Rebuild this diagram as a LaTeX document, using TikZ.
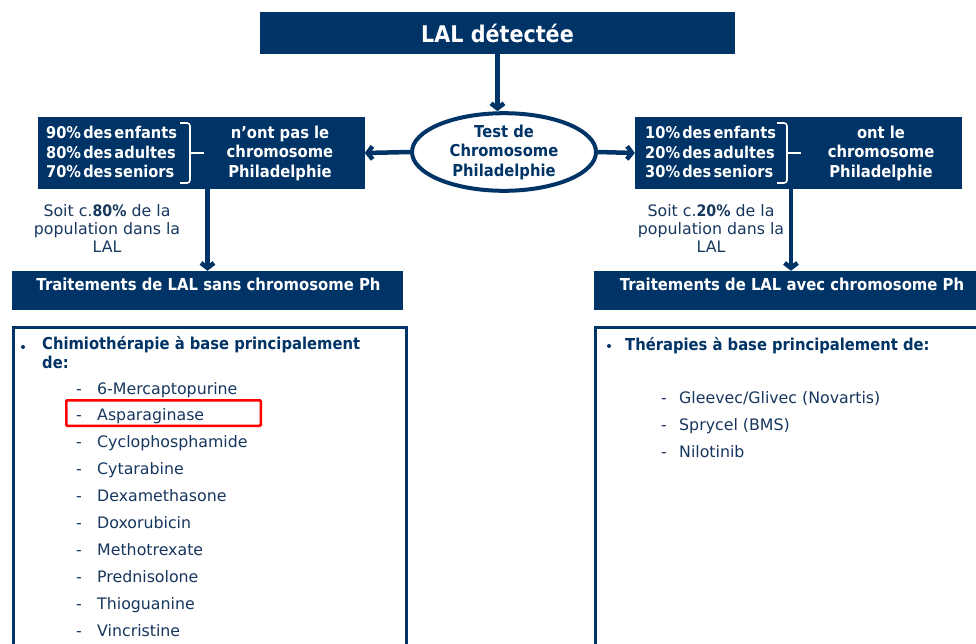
\documentclass[tikz,border=0pt]{standalone}
\usepackage{fontspec}
\setmainfont{DejaVu Sans}[BoldFeatures={FakeStretch=0.9}]
\usetikzlibrary{arrows.meta,shapes.geometric}
\definecolor{navy}{RGB}{0,51,102}
\definecolor{txtblue}{RGB}{23,55,94}
\newcommand{\fs}[1]{\fontsize{#1}{#1}\selectfont}
\newcommand{\tightsp}{\spaceskip=2.2pt\relax}
\begin{document}
\begin{tikzpicture}[x=1pt,y=-1pt,
  navybox/.style={fill=navy, draw=none, inner sep=0pt, text=white},
  wtext/.style={text=white, inner sep=0pt, font=\bfseries\fontsize{16.4}{19.5}\selectfont},
  pct/.style={text=white, inner sep=0pt, anchor=west, align=left, font=\bfseries\fontsize{16.2}{19.5}\selectfont\tightsp},
  arr/.style={draw=navy, line width=4.5pt, -{Straight Barb[length=5pt,width=13pt]}},
  listbox/.style={draw=navy, line width=3pt, fill=white, inner sep=0pt, anchor=north west},
  item/.style={anchor=base west, inner sep=0pt, text=txtblue, font=\fs{15.8}},
  head/.style={anchor=base west, inner sep=0pt, text=navy, align=left, font=\bfseries\fontsize{16.4}{19}\selectfont},
  soit/.style={align=center, inner sep=0pt, text=txtblue, font=\fontsize{15.8}{18}\selectfont},
  bul/.style={circle, fill=navy, inner sep=0pt, minimum size=4pt}]
\useasboundingbox (0,0) rectangle (976,643);
\clip (0,0) rectangle (976,643);

% top box
\node[navybox, minimum width=475pt, minimum height=42pt, font=\bfseries\fs{23}] (top) at (497.5,33) {LAL détectée};

% ellipse
\node[ellipse, draw=navy, line width=4pt, fill=white, minimum width=184pt, minimum height=75pt,
      inner sep=0pt, align=center, text=navy, font=\bfseries\fontsize{16.4}{19.5}\selectfont] (test) at (504,152)
      {Test de\\Chromosome\\Philadelphie};

% left / right result boxes
\node[navybox, minimum width=327pt, minimum height=72pt] (lbox) at (201,153) {};
\node[navybox, minimum width=327pt, minimum height=72pt] (rbox) at (798.5,153) {};

\node[pct] (lpct) at (46,152) {90\% des enfants\\80\% des adultes\\70\% des seniors};
\node[wtext, align=center] (ltxt) at (280,153) {n’ont pas le\\chromosome\\Philadelphie};
\node[pct] (rpct) at (645,152) {10\% des enfants\\20\% des adultes\\30\% des seniors};
\node[wtext, align=center] (rtxt) at (881,153) {ont le\\chromosome\\Philadelphie};

% braces
\draw[white, line width=1.6pt, rounded corners=3pt] (180,123) -- (190,123) -- (190,183) -- (180,183);
\draw[white, line width=1.6pt] (190,153) -- (204,153);
\draw[white, line width=1.6pt, rounded corners=3pt] (777,123) -- (787,123) -- (787,183) -- (777,183);
\draw[white, line width=1.6pt] (787,153) -- (801,153);

% treatment boxes
\node[navybox, minimum width=391pt, minimum height=39pt] (ltreat) at (207.5,290.5) {};
\node[navybox, minimum width=394pt, minimum height=39pt] (rtreat) at (791,290.5) {};
\node[wtext, font=\bfseries\fs{16.5}] (ltreatT) at (208.5,284) {Traitements de LAL sans chromosome Ph};
\node[wtext, font=\bfseries\fs{16.5}] (rtreatT) at (792,284) {Traitements de LAL avec chromosome Ph};

% percentages text
\node[soit] (lsoit) at (107,228) {Soit c.\textbf{80\%} de la\\population dans la\\LAL};
\node[soit] (rsoit) at (711,228) {Soit c.\textbf{20\%} de la\\population dans la\\LAL};

% arrows
\draw[arr] (top.south) -- (top.south |- test.north);
\draw[arr] (test.west) -- (lbox.east);
\draw[arr] (test.east) -- (rbox.west);
\draw[arr] (ltreat.north |- lbox.south) -- (ltreat.north);
\draw[arr] (rtreat.north |- rbox.south) -- (rtreat.north);

% list boxes
\node[listbox, minimum width=393pt, minimum height=380pt] (llist) at (11.5,325.5) {};
\node[listbox, minimum width=410pt, minimum height=380pt] (rlist) at (593.5,325.5) {};

\node[bul] (lb) at (23,347) {};
\node[head] (lhead) at (42,368) {Chimiothérapie à base principalement\\de:};
\node[bul] (rb) at (609,346) {};
\node[head] (rhead) at (625,350) {Thérapies à base principalement de:};

\foreach \t [count=\i] in {6-Mercaptopurine,Asparaginase,Cyclophosphamide,Cytarabine,Dexamethasone,Doxorubicin,Methotrexate,Prednisolone,Thioguanine,Vincristine}
  \node[item] (li\i) at (76,{394+26.9*(\i-1)}) {\makebox[21pt][l]{-}\t};

\node[item] (ri1) at (661,403) {\makebox[18pt][l]{-}Gleevec/Glivec (Novartis)};
\node[item] (ri2) at (661,430) {\makebox[18pt][l]{-}Sprycel (BMS)};
\node[item] (ri3) at (661,457) {\makebox[18pt][l]{-}Nilotinib};

% highlight
\node[draw=red, line width=2.5pt, rounded corners=1pt, inner sep=0pt, minimum width=194.5pt, minimum height=25.5pt] (hl) at (163.5,413) {};
\end{tikzpicture}
\end{document}
